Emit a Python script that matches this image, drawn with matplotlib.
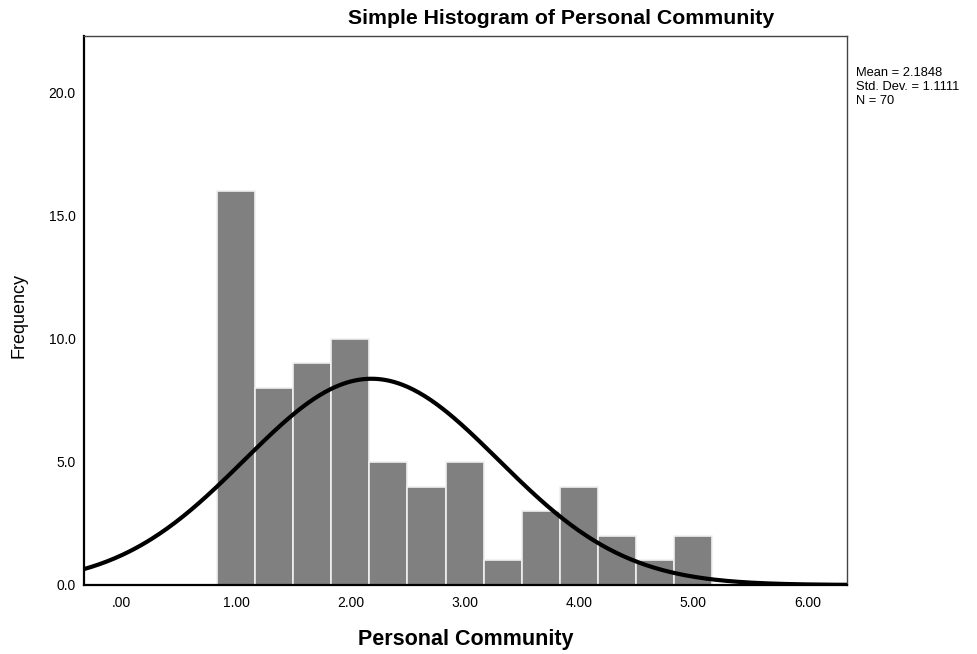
import numpy as np
import matplotlib
matplotlib.use("Agg")
import matplotlib.pyplot as plt

# histogram counts, bins centred on 1.00, 1.33, ... 5.00 (width 1/3)
bin_centers = [1.0, 4/3, 5/3, 2.0, 7/3, 8/3, 3.0, 10/3, 11/3, 4.0, 13/3, 14/3, 5.0]
counts = [16, 8, 9, 10, 5, 4, 5, 1, 3, 4, 2, 1, 2]
bin_width = 1/3
mean = 2.1848
std = 1.1111
n = 70

xticks = [0, 1, 2, 3, 4, 5, 6]
xtick_labels = [".00", "1.00", "2.00", "3.00", "4.00", "5.00", "6.00"]
yticks = [0, 5, 10, 15, 20]
ytick_labels = ["0.0", "5.0", "10.0", "15.0", "20.0"]

plt.rcParams['font.family'] = ['Liberation Sans', 'DejaVu Sans']

fig = plt.figure(figsize=(9.77, 6.54), dpi=100)
ax = fig.add_axes([84/977, 1 - 585/654, (847-84)/977, (585-36)/654])

ax.bar(bin_centers, counts, width=bin_width, color="#808080",
       edgecolor="#f0f0f0", linewidth=1.2, zorder=2)

x = np.linspace(-0.4, 6.4, 400)
y = n * bin_width / (std * np.sqrt(2*np.pi)) * np.exp(-0.5*((x - mean)/std)**2)
ax.plot(x, y, color="black", linewidth=3, zorder=3)

ax.set_xlim(-0.33, 6.345)
ax.set_ylim(0, 22.3)
ax.set_xticks(xticks)
ax.set_xticklabels(xtick_labels)
ax.set_yticks(yticks)
ax.set_yticklabels(ytick_labels)
ax.tick_params(length=0, labelsize=10, pad=8)
ax.tick_params(axis='y', pad=6)

for s in ["left", "bottom"]:
    ax.spines[s].set_linewidth(1.6)
    ax.spines[s].set_color("black")
for s in ["top", "right"]:
    ax.spines[s].set_linewidth(1.0)
    ax.spines[s].set_color("#444444")

fig.text(561/977, 1 - 18/654, "Simple Histogram of Personal Community",
         ha="center", va="center", fontsize=15.3, fontweight="bold")
fig.text(466/977, 1 - 639/654, "Personal Community",
         ha="center", va="center", fontsize=15.5, fontweight="bold")
fig.text(19/977, 1 - 315/654, "Frequency", ha="center", va="center",
         rotation=90, fontsize=13)
fig.text(856/977, 1 - 87/654,
         "Mean = %.4f\nStd. Dev. = %.4f\nN = %d" % (mean, std, n),
         ha="left", va="center", fontsize=9.3, linespacing=1.2)

fig.savefig("out.png", dpi=100)
